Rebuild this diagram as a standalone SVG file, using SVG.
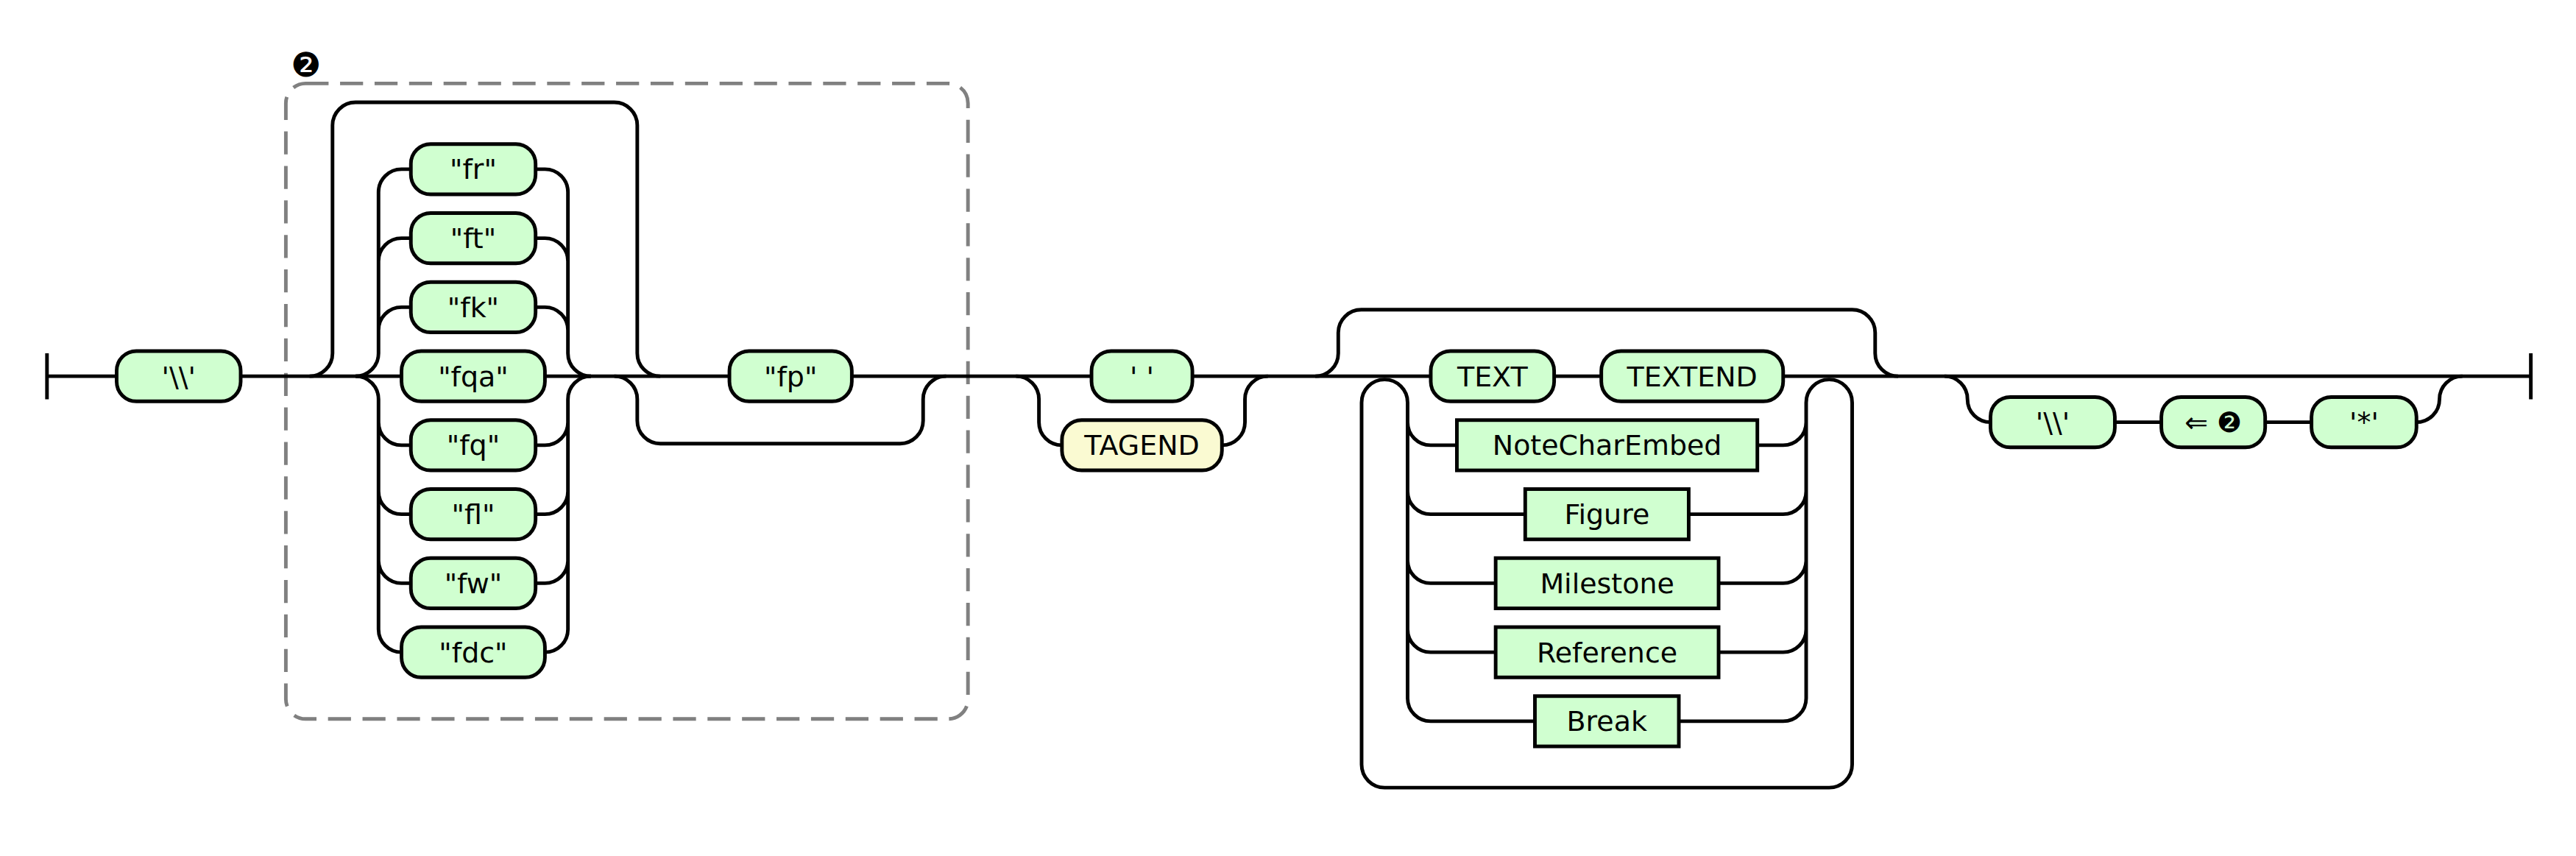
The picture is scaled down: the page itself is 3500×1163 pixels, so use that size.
<svg xmlns="http://www.w3.org/2000/svg" width="3500" height="1163" viewBox="0 0 3500 1163">
<style>
.c{fill:none;stroke:#000;stroke-width:2.2}
.t rect{fill:#d0ffd0;stroke:#000;stroke-width:2.2}
.y rect{fill:#fafad2;stroke:#000;stroke-width:2.2}
text{font-family:"DejaVu Sans","Liberation Sans",sans-serif;font-size:17px;fill:#000;text-anchor:middle}
.grp{fill:none;stroke:#808080;stroke-width:2.2;stroke-dasharray:14 7}
</style>
<rect width="3500" height="1163" fill="#fff"/>
<g transform="scale(2.232143)">
<g id="group-2">
<rect class="grp" x="174" y="50.8" width="415.2" height="386.8" rx="12"/>
<text x="186.3" y="46.8" style="font-size:20.5px">❷</text>
</g>
<g id="connectors" class="c">
<path d="M28.6 215V243M1540.5 215V243"/>
<path d="M28.6 229H71M146.5 229H244.4M331.7 229H444M518.5 229H664.4M725.8 229H870.9M946 229H974.7M1085.4 229H1540.5"/>
<path d="M188.4 229A14 14 0 0 0 202.4 215V76.3A14 14 0 0 1 216.4 62.3H373.9A14 14 0 0 1 387.9 76.3V215A14 14 0 0 0 401.9 229"/>
<path d="M216.4 229A14 14 0 0 0 230.4 215V117A14 14 0 0 1 244.4 103H250.1M230.4 159A14 14 0 0 1 244.4 145H250.1M230.4 201A14 14 0 0 1 244.4 187H250.1"/>
<path d="M216.4 229A14 14 0 0 1 230.4 243V383A14 14 0 0 0 244.4 397M230.4 257A14 14 0 0 0 244.4 271H250.1M230.4 299A14 14 0 0 0 244.4 313H250.1M230.4 341A14 14 0 0 0 244.4 355H250.1"/>
<path d="M326 103H331.7A14 14 0 0 1 345.7 117V215A14 14 0 0 0 359.7 229M326 145H331.7A14 14 0 0 1 345.7 159M326 187H331.7A14 14 0 0 1 345.7 201"/>
<path d="M331.7 397A14 14 0 0 0 345.7 383V243A14 14 0 0 1 359.7 229M326 271H331.7A14 14 0 0 0 345.7 257M326 313H331.7A14 14 0 0 0 345.7 299M326 355H331.7A14 14 0 0 0 345.7 341"/>
<path d="M373.9 229A14 14 0 0 1 387.9 243V256A14 14 0 0 0 401.9 270H547.9A14 14 0 0 0 561.9 256V243A14 14 0 0 1 575.9 229"/>
<path d="M618.4 229A14 14 0 0 1 632.4 243V257A14 14 0 0 0 646.4 271M743.8 271A14 14 0 0 0 757.8 257V243A14 14 0 0 1 771.8 229"/>
<path d="M800.6 229A14 14 0 0 0 814.6 215V202.5A14 14 0 0 1 828.6 188.5H1127.4A14 14 0 0 1 1141.4 202.5V215A14 14 0 0 0 1155.4 229"/>
<path d="M856.8 245A14 14 0 0 0 828.8 245V465.4A14 14 0 0 0 842.8 479.4H1113.4A14 14 0 0 0 1127.4 465.4V245A14 14 0 0 0 1099.4 245"/>
<path d="M856.8 245V425A14 14 0 0 0 870.8 439H934.3M856.8 257A14 14 0 0 0 870.8 271H886.8M856.8 299A14 14 0 0 0 870.8 313H928.4M856.8 341A14 14 0 0 0 870.8 355H910.4M856.8 383A14 14 0 0 0 870.8 397H910.4"/>
<path d="M1021.9 439H1085.4A14 14 0 0 0 1099.4 425V245M1069.7 271H1085.4A14 14 0 0 0 1099.4 257M1027.9 313H1085.4A14 14 0 0 0 1099.4 299M1046.1 355H1085.4A14 14 0 0 0 1099.4 341M1046.1 397H1085.4A14 14 0 0 0 1099.4 383"/>
<path d="M1183.6 229A14 14 0 0 1 1197.6 243A14 14 0 0 0 1211.6 257M1287.3 257H1315.6M1378.8 257H1407M1470.9 257A14 14 0 0 0 1484.9 243A14 14 0 0 1 1498.9 229"/>
</g>
<g id="n-bs1" class="t"><rect x="71" y="213.7" width="75.5" height="30.6" rx="12"/><text x="108.75" y="235">'\\'</text></g>
<g id="n-fr" class="t"><rect x="250.1" y="87.7" width="75.9" height="30.6" rx="12"/><text x="288.05" y="109">"fr"</text></g>
<g id="n-ft" class="t"><rect x="250.1" y="129.7" width="75.9" height="30.6" rx="12"/><text x="288.05" y="151">"ft"</text></g>
<g id="n-fk" class="t"><rect x="250.1" y="171.7" width="75.9" height="30.6" rx="12"/><text x="288.05" y="193">"fk"</text></g>
<g id="n-fqa" class="t"><rect x="244.4" y="213.7" width="87.3" height="30.6" rx="12"/><text x="288.05" y="235">"fqa"</text></g>
<g id="n-fq" class="t"><rect x="250.1" y="255.7" width="75.9" height="30.6" rx="12"/><text x="288.05" y="277">"fq"</text></g>
<g id="n-fl" class="t"><rect x="250.1" y="297.7" width="75.9" height="30.6" rx="12"/><text x="288.05" y="319">"fl"</text></g>
<g id="n-fw" class="t"><rect x="250.1" y="339.7" width="75.9" height="30.6" rx="12"/><text x="288.05" y="361">"fw"</text></g>
<g id="n-fdc" class="t"><rect x="244.4" y="381.7" width="87.3" height="30.6" rx="12"/><text x="288.05" y="403">"fdc"</text></g>
<g id="n-fp" class="t"><rect x="444" y="213.7" width="74.5" height="30.6" rx="12"/><text x="481.25" y="235">"fp"</text></g>
<g id="n-space" class="t"><rect x="664.4" y="213.7" width="61.4" height="30.6" rx="12"/><text x="695.1" y="235">' '</text></g>
<g id="n-tagend" class="y"><rect x="646.4" y="255.7" width="97.4" height="30.6" rx="12"/><text x="695.1" y="277">TAGEND</text></g>
<g id="n-text" class="t"><rect x="870.9" y="213.7" width="75.1" height="30.6" rx="12"/><text x="908.45" y="235">TEXT</text></g>
<g id="n-textend" class="t"><rect x="974.7" y="213.7" width="110.7" height="30.6" rx="12"/><text x="1030.05" y="235">TEXTEND</text></g>
<g id="n-notecharembed" class="t"><rect x="886.8" y="255.7" width="182.9" height="30.6"/><text x="978.25" y="277">NoteCharEmbed</text></g>
<g id="n-figure" class="t"><rect x="928.4" y="297.7" width="99.5" height="30.6"/><text x="978.15" y="319">Figure</text></g>
<g id="n-milestone" class="t"><rect x="910.4" y="339.7" width="135.7" height="30.6"/><text x="978.25" y="361">Milestone</text></g>
<g id="n-reference" class="t"><rect x="910.4" y="381.7" width="135.7" height="30.6"/><text x="978.25" y="403">Reference</text></g>
<g id="n-break" class="t"><rect x="934.3" y="423.7" width="87.6" height="30.6"/><text x="978.1" y="445">Break</text></g>
<g id="n-bs2" class="t"><rect x="1211.6" y="241.7" width="75.7" height="30.6" rx="12"/><text x="1249.45" y="263">'\\'</text></g>
<g id="n-backref" class="t"><rect x="1315.6" y="241.7" width="63.2" height="30.6" rx="12"/><text x="1347.2" y="263">⇐ ❷</text></g>
<g id="n-star" class="t"><rect x="1407" y="241.7" width="63.9" height="30.6" rx="12"/><text x="1438.95" y="263">'*'</text></g>
</g>
</svg>
